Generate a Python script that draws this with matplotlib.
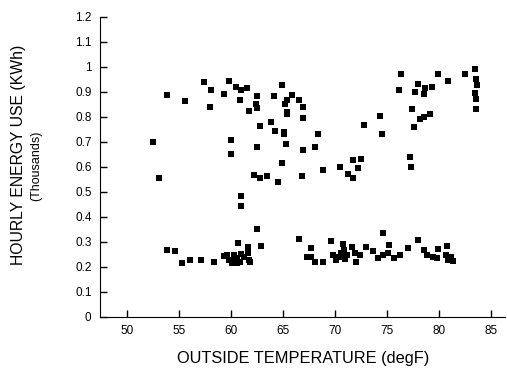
import numpy as np
from matplotlib import pyplot as plt

plt.rcParams['font.family'] = ['Liberation Sans', 'DejaVu Sans']

# upper band (occupied hours)
temp_hi = [52.5, 53.1, 53.9, 55.6, 57.4, 58.1, 58.0, 59.3, 59.8, 60.5, 61.0, 61.5,
           60.9, 62.5, 61.7, 62.4, 62.5, 64.1, 64.9, 65.9, 65.4, 66.5, 65.2, 66.9,
           65.4, 65.4, 66.9, 62.8, 63.9, 64.2, 65.1, 65.1, 68.4, 60.0, 62.5, 65.3,
           66.9, 68.1, 60.0, 64.9, 62.2, 62.8, 63.5, 64.5, 66.8, 61.0, 61.0, 62.5,
           68.9, 70.5, 71.3, 71.7, 71.7, 72.5, 72.2, 72.8, 74.3, 74.5, 76.4, 76.2,
           77.4, 77.6, 77.2, 77.3, 78.0, 77.7, 78.7, 78.6, 79.3, 78.2, 78.6, 79.1,
           79.9, 80.9, 82.5, 83.5, 83.6, 83.7, 83.5, 83.6, 83.6]
kwh_hi = [0.700, 0.556, 0.888, 0.864, 0.941, 0.907, 0.840, 0.891, 0.945, 0.919, 0.907, 0.916,
          0.868, 0.885, 0.824, 0.851, 0.837, 0.884, 0.929, 0.888, 0.868, 0.868, 0.852, 0.840,
          0.821, 0.812, 0.797, 0.765, 0.780, 0.744, 0.740, 0.731, 0.731, 0.708, 0.681, 0.692,
          0.669, 0.680, 0.651, 0.615, 0.567, 0.555, 0.565, 0.540, 0.565, 0.483, 0.444, 0.352,
          0.588, 0.601, 0.571, 0.557, 0.628, 0.633, 0.595, 0.768, 0.804, 0.733, 0.971, 0.908,
          0.831, 0.761, 0.641, 0.599, 0.932, 0.901, 0.916, 0.892, 0.920, 0.792, 0.801, 0.811,
          0.972, 0.945, 0.971, 0.992, 0.951, 0.928, 0.895, 0.871, 0.832]

# lower band (unoccupied hours)
temp_lo = [53.9, 54.6, 55.3, 56.1, 57.1, 58.4, 59.3, 59.6, 59.8, 60.1, 60.3, 60.6,
           60.6, 60.7, 60.9, 61.3, 61.6, 61.6, 61.7, 61.8, 60.4, 61.0, 62.9, 66.5,
           67.7, 67.3, 67.7, 68.1, 68.9, 69.6, 69.8, 70.1, 70.6, 70.9, 70.8, 71.2,
           71.6, 71.9, 72.0, 72.4, 73.0, 73.7, 74.1, 74.6, 74.6, 75.1, 75.2, 75.7,
           76.3, 77.0, 78.0, 78.6, 78.9, 79.4, 79.9, 79.8, 80.8, 80.7, 80.9, 81.4,
           81.2, 70.4, 71.0]
kwh_lo = [0.268, 0.263, 0.217, 0.229, 0.229, 0.220, 0.244, 0.249, 0.228, 0.217, 0.248, 0.235,
          0.217, 0.295, 0.221, 0.241, 0.255, 0.279, 0.228, 0.219, 0.225, 0.250, 0.285, 0.312,
          0.277, 0.239, 0.241, 0.219, 0.221, 0.304, 0.248, 0.228, 0.255, 0.268, 0.292, 0.248,
          0.281, 0.255, 0.221, 0.248, 0.279, 0.265, 0.235, 0.337, 0.248, 0.255, 0.287, 0.235,
          0.248, 0.275, 0.308, 0.268, 0.248, 0.239, 0.271, 0.235, 0.284, 0.248, 0.228, 0.225,
          0.241, 0.240, 0.230]

yticks = np.arange(0, 1.21, 0.1)
ytick_labels = ['0', '0.1', '0.2', '0.3', '0.4', '0.5', '0.6', '0.7', '0.8', '0.9', '1', '1.1', '1.2']
xticks = [50, 55, 60, 65, 70, 75, 80, 85]

fig = plt.figure(figsize=(5.07, 3.68), dpi=100)
ax = fig.add_axes([0.197, 0.139, 0.80, 0.815])

ax.scatter(temp_hi, kwh_hi, marker='s', s=24, color='black', linewidths=0)
ax.scatter(temp_lo, kwh_lo, marker='s', s=24, color='black', linewidths=0)

ax.set_xlim(47.4, 86.4)
ax.set_ylim(0, 1.2)
ax.set_xticks(xticks)
ax.set_yticks(yticks)
ax.set_yticklabels(ytick_labels)
ax.tick_params(direction='in', length=5, width=1, labelsize=8.5, pad=6)
ax.spines['top'].set_visible(False)
ax.spines['right'].set_visible(False)

ax.set_xlabel('OUTSIDE TEMPERATURE (degF)', fontsize=11.8, labelpad=10)
fig.text(0.037, 0.58, 'HOURLY ENERGY USE (KWh)', rotation=90, fontsize=11.3,
         ha='center', va='center')
fig.text(0.071, 0.55, '(Thousands)', rotation=90, fontsize=9,
         ha='center', va='center')

plt.savefig('out.png', dpi=100)
